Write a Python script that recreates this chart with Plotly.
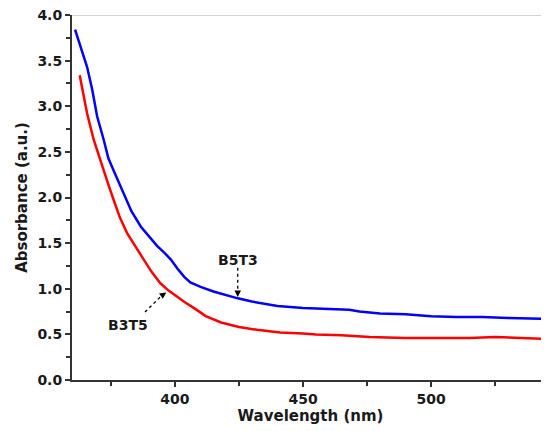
import plotly.graph_objects as go

# B5T3 (blue) spectrum
b5t3_wl = [361, 365.7, 367.7, 369.6, 372.2, 374, 376, 378, 380, 383, 386.7, 390, 393, 396, 398.4, 401, 403.6,
           406, 410, 415, 420, 424.5, 430, 440, 450, 460, 468, 472, 480, 490, 500, 510, 520, 530, 546]
b5t3_abs = [3.84, 3.43, 3.18, 2.89, 2.63, 2.43, 2.30, 2.17, 2.05, 1.85, 1.68, 1.57, 1.47, 1.39, 1.32, 1.22, 1.13,
            1.07, 1.02, 0.97, 0.93, 0.895, 0.86, 0.81, 0.79, 0.78, 0.77, 0.75, 0.73, 0.72, 0.70, 0.69, 0.69, 0.68, 0.67]

# B3T5 (red) spectrum
b3t5_wl = [362.8, 364.3, 365.7, 368.3, 371.5, 374, 376.1, 378.5, 381.3, 384.5, 387.8, 391, 394.3, 397.5, 400.8,
           404, 407.3, 412, 418, 425, 432, 441, 450, 455, 465, 476, 490, 500, 515, 525, 535, 546]
b3t5_abs = [3.34, 3.12, 2.92, 2.63, 2.34, 2.14, 1.97, 1.78, 1.61, 1.46, 1.32, 1.18, 1.06, 0.98, 0.91,
            0.85, 0.79, 0.70, 0.63, 0.58, 0.55, 0.52, 0.51, 0.50, 0.49, 0.47, 0.46, 0.46, 0.46, 0.47, 0.46, 0.45]

x_ticks = [400, 450, 500]
y_ticks = [0.0, 0.5, 1.0, 1.5, 2.0, 2.5, 3.0, 3.5, 4.0]

fig = go.Figure()
fig.add_trace(go.Scatter(x=b5t3_wl, y=b5t3_abs, mode="lines", name="B5T3",
                         line=dict(color="#0000ff", width=2.5)))
fig.add_trace(go.Scatter(x=b3t5_wl, y=b3t5_abs, mode="lines", name="B3T5",
                         line=dict(color="#ff0000", width=2.5)))

tick_font = dict(family="DejaVu Sans", size=14, color="#1a1a1a", weight="bold")
title_font = dict(family="DejaVu Sans", size=15, color="#1a1a1a", weight="bold")

# dotted leader lines for the labels
fig.add_shape(type="line", x0=424.5, y0=1.23, x1=424.5, y1=0.95,
              line=dict(color="black", width=1.3, dash="dot"))
fig.add_shape(type="line", x0=388.3, y0=0.745, x1=395.0, y1=0.93,
              line=dict(color="black", width=1.3, dash="dot"))
# small arrowheads
fig.add_annotation(x=424.5, y=0.91, ax=424.5, ay=0.96, axref="x", ayref="y", text="",
                   showarrow=True, arrowhead=2, arrowsize=1, arrowwidth=1.3, arrowcolor="black")
fig.add_annotation(x=396.6, y=0.96, ax=394.6, ay=0.92, axref="x", ayref="y", text="",
                   showarrow=True, arrowhead=2, arrowsize=1, arrowwidth=1.3, arrowcolor="black")

fig.add_annotation(x=424.5, y=1.32, text="B5T3", showarrow=False, font=tick_font)
fig.add_annotation(x=381.6, y=0.60, text="B3T5", showarrow=False, font=tick_font)

# light grey top border
fig.add_shape(type="line", xref="paper", x0=0, x1=1, yref="y", y0=4.0, y1=4.0,
              line=dict(color="#d3d3d3", width=2))

fig.update_xaxes(range=[359.8, 546], tickvals=x_ticks, ticks="outside", ticklen=5, tickwidth=1.5,
                 tickcolor="#333333", showline=True, linecolor="#333333", linewidth=2,
                 showgrid=False, zeroline=False, tickfont=tick_font, automargin=False,
                 minor=dict(tickvals=[375, 425, 475, 525], ticks="outside", ticklen=4,
                            tickwidth=1.5, tickcolor="#333333"),
                 title=dict(text="Wavelength (nm)", font=title_font, standoff=0))
fig.update_yaxes(range=[0, 4.0], tickvals=y_ticks, tickformat=".1f", ticks="outside", ticklen=5,
                 tickwidth=1.5, tickcolor="#333333", showline=True, linecolor="#333333", linewidth=2,
                 showgrid=False, zeroline=False, tickfont=tick_font, automargin=False,
                 ticklabeloverflow="allow",
                 minor=dict(dtick=0.25, ticks="outside", ticklen=4, tickwidth=1.5, tickcolor="#333333"),
                 title=dict(text="Absorbance (a.u.)", font=title_font, standoff=6))

# page body has an 8px margin, so the figure is sized to fit inside the window
fig.update_layout(width=541, height=423, showlegend=False,
                  margin=dict(l=64, r=0, t=7, b=51),
                  plot_bgcolor="white", paper_bgcolor="white")

fig.write_html("out.html")
